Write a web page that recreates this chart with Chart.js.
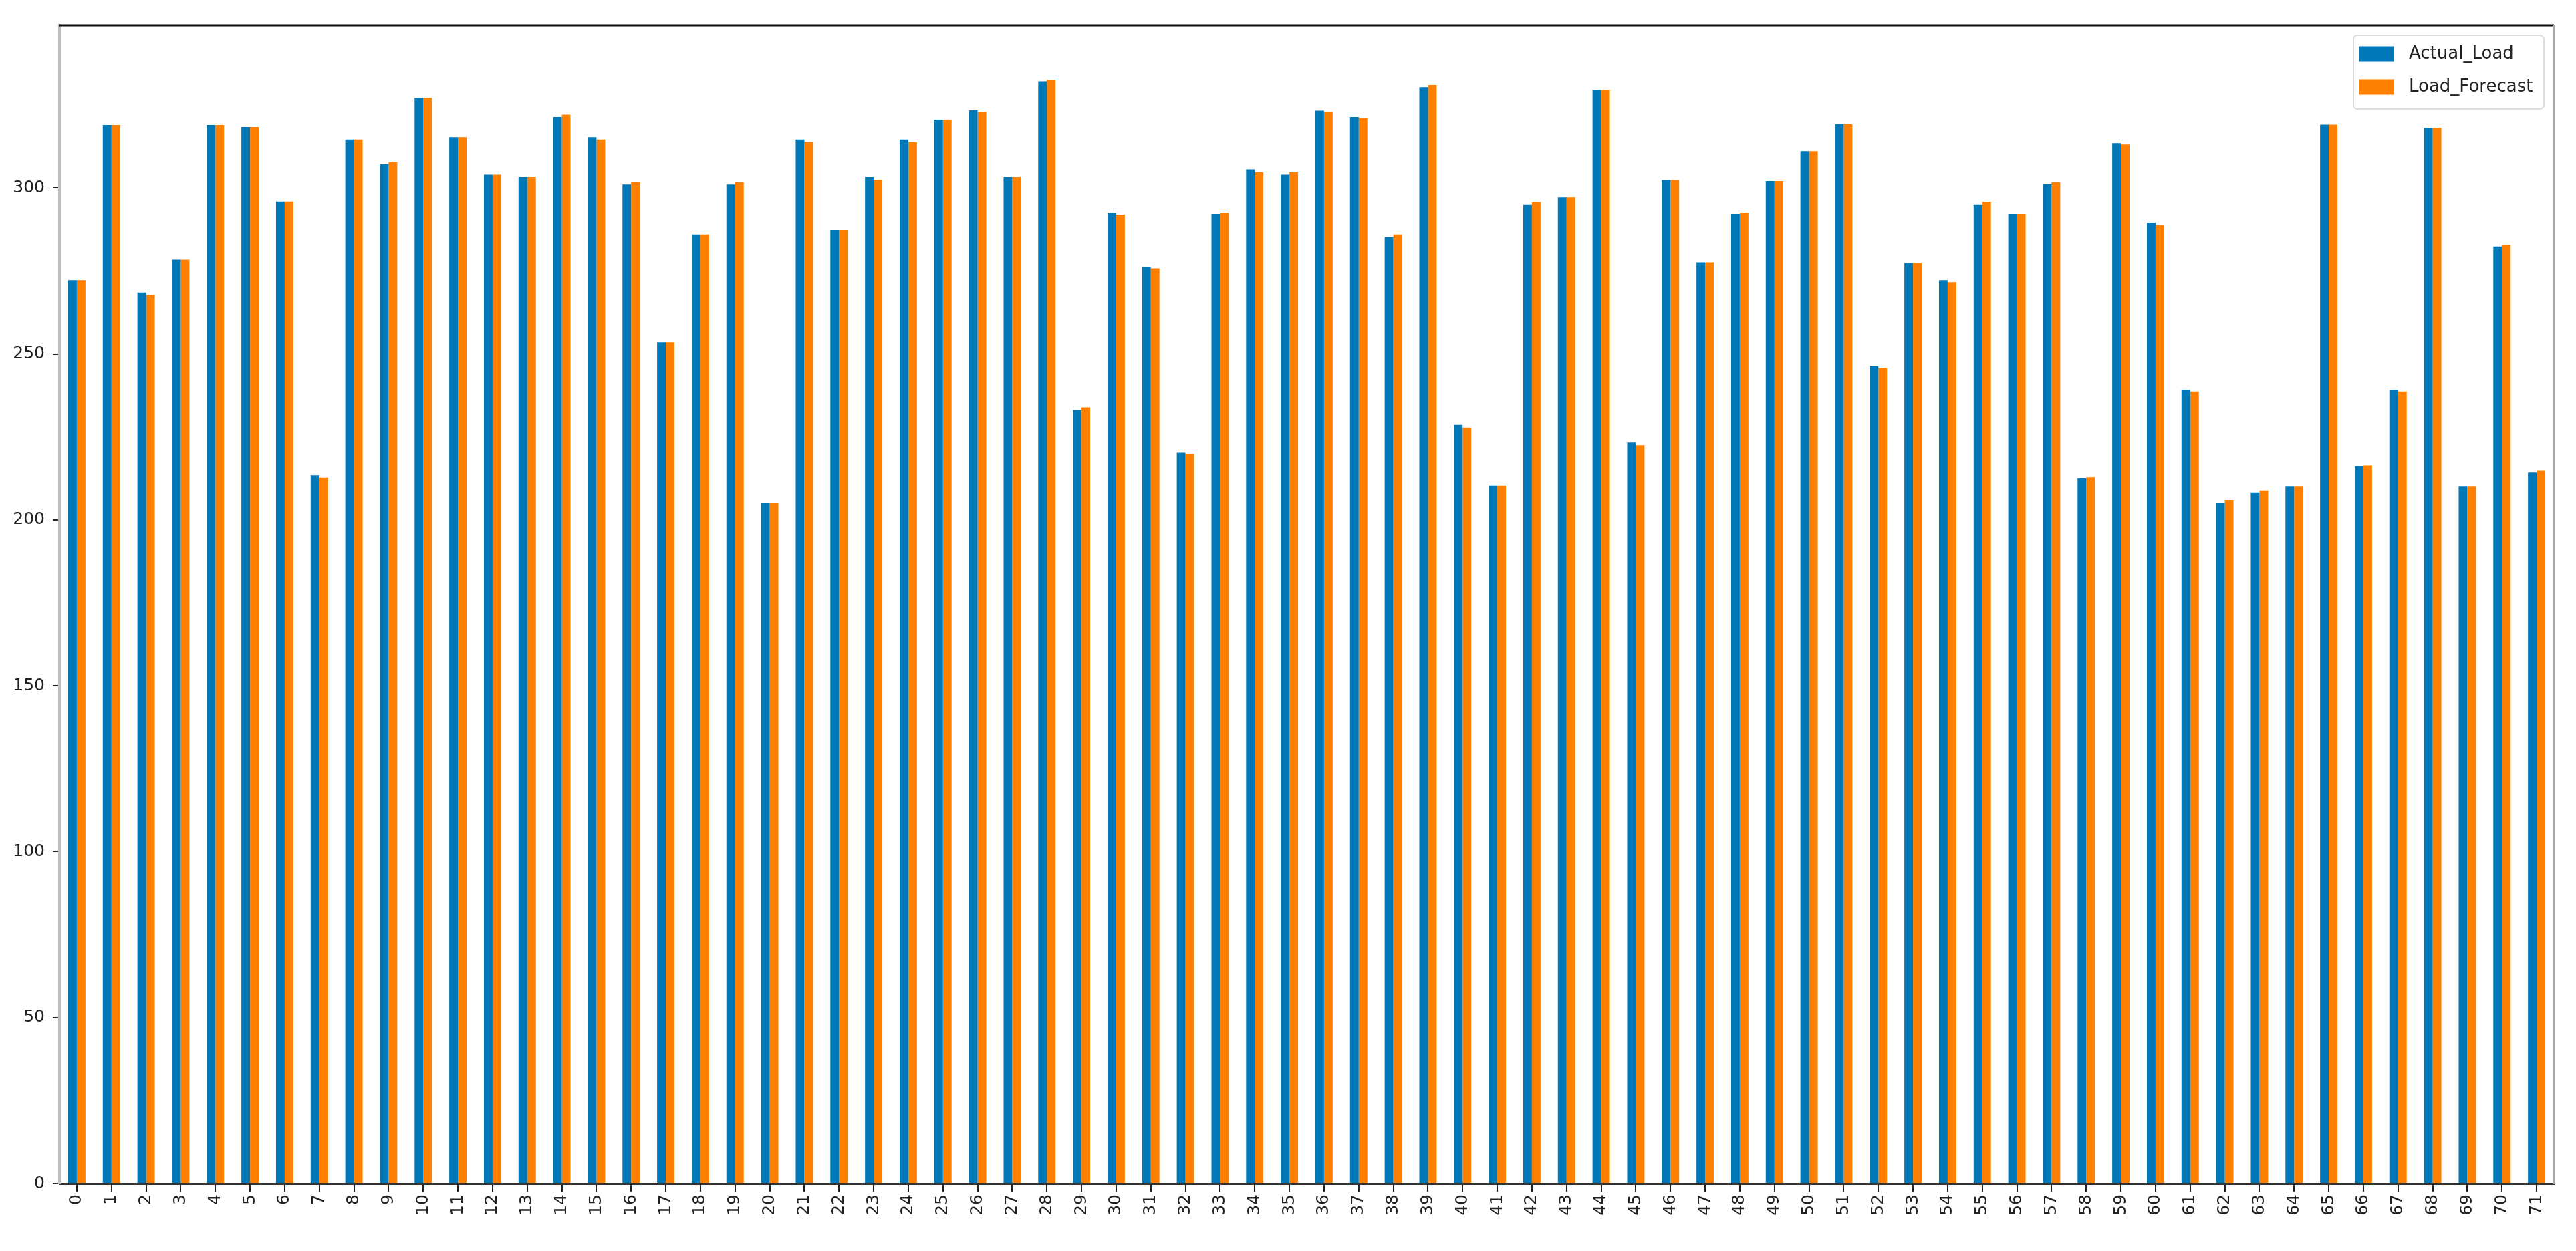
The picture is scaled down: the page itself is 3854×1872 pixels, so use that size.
<!DOCTYPE html>
<html>
<head>
<meta charset="utf-8">
<script src="https://cdn.jsdelivr.net/npm/chart.js@4.4.1/dist/chart.umd.min.js"></script>
<style>
  html, body { margin: 0; padding: 0; background: #ffffff; }
  #wrap { width: 3854px; height: 1872px; position: relative; }
</style>
</head>
<body>
<div id="wrap"><canvas id="c"></canvas></div>
<script>
const categories = ['0','1','2','3','4','5','6','7','8','9','10','11','12','13','14','15','16','17','18','19','20','21','22','23','24','25','26','27','28','29','30','31','32','33','34','35','36','37','38','39','40','41','42','43','44','45','46','47','48','49','50','51','52','53','54','55','56','57','58','59','60','61','62','63','64','65','66','67','68','69','70','71'];

const actualLoad = [272.2, 319.0, 268.5, 278.4, 319.0, 318.4, 295.9, 213.4, 314.6, 307.1,
  327.2, 315.3, 304.0, 303.3, 321.4, 315.3, 301.0, 253.5, 286.0, 301.0,
  205.2, 314.6, 287.4, 303.3, 314.6, 320.6, 323.4, 303.3, 332.2, 233.1,
  292.5, 276.2, 220.2, 292.2, 305.6, 304.0, 323.3, 321.4, 285.2, 330.4,
  228.6, 210.3, 294.9, 297.2, 329.6, 223.3, 302.4, 277.6, 292.2, 302.1,
  311.1, 319.2, 246.3, 277.4, 272.2, 294.9, 292.2, 301.1, 212.5, 313.5,
  289.6, 239.2, 205.2, 208.3, 210.0, 319.1, 216.2, 239.2, 318.2, 210.0,
  282.4, 214.2];

const loadForecast = [272.2, 319.0, 267.8, 278.4, 319.0, 318.4, 295.9, 212.7, 314.6, 307.8,
  327.2, 315.3, 304.0, 303.3, 322.1, 314.6, 301.7, 253.5, 286.0, 301.7,
  205.2, 313.8, 287.4, 302.5, 313.8, 320.6, 322.9, 303.3, 332.7, 233.9,
  292.0, 275.8, 219.9, 292.6, 304.7, 304.7, 322.9, 321.0, 286.0, 331.1,
  227.8, 210.3, 295.8, 297.2, 329.6, 222.5, 302.4, 277.6, 292.6, 302.1,
  311.1, 319.2, 245.9, 277.4, 271.6, 295.8, 292.2, 301.7, 212.8, 313.1,
  288.9, 238.7, 206.0, 208.9, 210.0, 319.1, 216.4, 238.7, 318.2, 210.0,
  282.9, 214.8];

const yTicks = [0, 50, 100, 150, 200, 250, 300];
const seriesNames = ['Actual_Load', 'Load_Forecast'];

const BLUE = '#0077b6';
const ORANGE = '#ff8000';
const FONT = 'DejaVu Sans';

// Frame (top/right edges) and inside legend
const framePlugin = {
  id: 'frame',
  afterDraw(chart) {
    const ctx = chart.ctx;
    const a = chart.chartArea;
    ctx.save();
    // top edge
    ctx.strokeStyle = '#111111';
    ctx.lineWidth = 3;
    ctx.beginPath();
    ctx.moveTo(a.left, a.top);
    ctx.lineTo(a.right, a.top);
    ctx.stroke();
    // right edge
    ctx.strokeStyle = '#a8a8a8';
    ctx.lineWidth = 3;
    ctx.beginPath();
    ctx.moveTo(a.right, a.top);
    ctx.lineTo(a.right, a.bottom);
    ctx.stroke();

    // legend
    const ds = chart.data.datasets;
    const bx = a.right - 300, by = a.top + 15, bw = 285, bh = 110;
    ctx.fillStyle = 'rgba(255,255,255,0.85)';
    ctx.strokeStyle = '#dcdcdc';
    ctx.lineWidth = 2;
    ctx.beginPath();
    if (ctx.roundRect) ctx.roundRect(bx, by, bw, bh, 6); else ctx.rect(bx, by, bw, bh);
    ctx.fill();
    ctx.stroke();
    ctx.font = '26px "' + FONT + '"';
    ctx.textBaseline = 'middle';
    ctx.textAlign = 'left';
    ds.forEach((d, i) => {
      const cy = by + 28 + i * 49;
      ctx.fillStyle = d.backgroundColor;
      ctx.fillRect(bx + 8, cy - 11.5, 53, 23);
      ctx.fillStyle = '#222222';
      ctx.fillText(d.label, bx + 83, cy);
    });
    ctx.restore();
  }
};

new Chart(document.getElementById('c'), {
  type: 'bar',
  data: {
    labels: categories,
    datasets: [
      { label: seriesNames[0], data: actualLoad, backgroundColor: BLUE, borderWidth: 0 },
      { label: seriesNames[1], data: loadForecast, backgroundColor: ORANGE, borderWidth: 0 }
    ]
  },
  options: {
    responsive: true,
    maintainAspectRatio: false,
    animation: false,
    devicePixelRatio: 1,
    layout: { padding: { left: 0, right: 33, top: 38, bottom: 0 } },
    datasets: { bar: { categoryPercentage: 0.5, barPercentage: 1.0 } },
    plugins: {
      legend: { display: false },
      tooltip: { enabled: false },
      title: { display: false }
    },
    scales: {
      x: {
        type: 'category',
        offset: true,
        grid: {
          display: true,
          drawOnChartArea: false,
          drawTicks: true,
          offset: false,
          tickLength: 12,
          color: '#222222',
          lineWidth: 2
        },
        border: { display: true, color: '#333333', width: 3 },
        ticks: {
          autoSkip: false,
          minRotation: 90,
          maxRotation: 90,
          padding: 4,
          color: '#222222',
          font: { family: FONT, size: 25 }
        },
        afterFit(scale) { scale.height = 101; }
      },
      y: {
        min: 0,
        max: 349,
        grid: {
          display: true,
          drawOnChartArea: false,
          drawTicks: true,
          tickLength: 10,
          color: '#222222',
          lineWidth: 2
        },
        border: { display: true, color: '#bdbdbd', width: 4 },
        ticks: {
          includeBounds: false,
          padding: 12,
          color: '#222222',
          font: { family: FONT, size: 25 }
        },
        afterBuildTicks(scale) { scale.ticks = yTicks.map(v => ({ value: v })); },
        afterFit(scale) { scale.width = 89; }
      }
    }
  },
  plugins: [framePlugin]
});
</script>
</body>
</html>
